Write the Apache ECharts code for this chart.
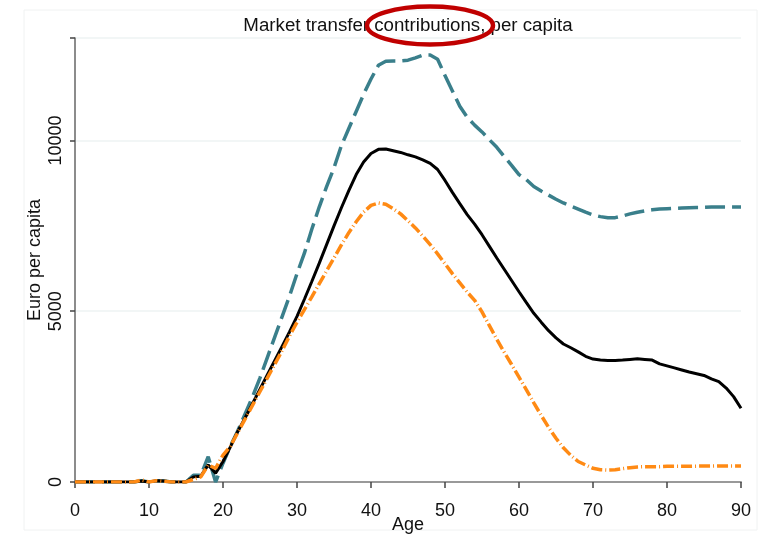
<!DOCTYPE html>
<html>
<head>
<meta charset="utf-8">
<script src="https://cdn.jsdelivr.net/npm/echarts@6/dist/echarts.min.js"></script>
<style>
  html, body { margin: 0; padding: 0; background: #fff; }
  #chart { width: 770px; height: 539px; }
</style>
</head>
<body>
<div id="chart"></div>
<script>
// age 0..90
var ages = [];
for (var a = 0; a <= 90; a++) ages.push(a);

// upper bound (teal, long dash)
var upper = [0, 0, 0, 0, 0, 0, 0, 0, 0, 40,
    0, 40, 30, 0, 0, 0, 200, 200, 740, 0,
    550, 1050, 1500, 2000, 2500, 3050, 3650, 4250, 4850, 5450,
    6100, 6700, 7400, 8050, 8650, 9200, 9850, 10350, 10850, 11350,
    11800, 12200, 12320, 12330, 12330, 12350, 12420, 12500, 12500, 12380,
    11900, 11450, 11000, 10680, 10450, 10250, 10020, 9800, 9530, 9270,
    9000, 8850, 8650, 8520, 8400, 8280, 8170, 8080, 7990, 7900,
    7820, 7770, 7740, 7740, 7790, 7850, 7900, 7940, 7970, 7990,
    8000, 8010, 8020, 8030, 8040, 8040, 8050, 8050, 8050, 8050, 8050];

// mean (black, solid)
var total = [0, 0, 0, 0, 0, 0, 0, 0, 0, 30,
    0, 40, 30, 0, 0, 0, 150, 170, 500, 260,
    600, 1030, 1480, 1880, 2300, 2720, 3140, 3560, 3980, 4400,
    4850, 5350, 5870, 6400, 6950, 7500, 8030, 8530, 9000, 9370,
    9620, 9740, 9750, 9700, 9650, 9580, 9520, 9430, 9330, 9150,
    8830, 8480, 8150, 7830, 7550, 7240, 6900, 6560, 6230, 5900,
    5570, 5250, 4940, 4680, 4430, 4220, 4040, 3930, 3810, 3680,
    3600, 3570, 3560, 3560, 3570, 3590, 3610, 3590, 3570, 3460,
    3400, 3340, 3280, 3220, 3170, 3120, 3020, 2940, 2750, 2500, 2160];

// lower bound (orange, dash-dot)
var lower = [0, 0, 0, 0, 0, 0, 0, 0, 0, 60,
    0, 40, 20, 0, 0, 0, 80, 150, 500, 400,
    790, 1050, 1450, 1850, 2250, 2650, 3050, 3450, 3850, 4280,
    4680, 5050, 5420, 5800, 6180, 6560, 6940, 7300, 7620, 7900,
    8100, 8170, 8130, 8000, 7850, 7650, 7440, 7200, 6950, 6680,
    6390, 6100, 5830, 5560, 5320, 4980, 4580, 4180, 3800, 3440,
    3070, 2700, 2320, 1950, 1600, 1280, 1000, 780, 600, 500,
    400, 360, 350, 360, 390, 420, 440, 450, 450, 450,
    460, 460, 460, 460, 465, 465, 465, 470, 470, 470, 470];

var titleText = 'Market transfer contributions, per capita';
var yTicks = [0, 5000, 10000];

function pairs(vals) {
    var out = [];
    for (var i = 0; i < ages.length; i++) out.push([ages[i], vals[i]]);
    return out;
}

var chart = echarts.init(document.getElementById('chart'));

var font = 'Liberation Sans, Arial, sans-serif';

option = {
    backgroundColor: '#fff',
    animation: false,
    grid: { left: 75, right: 29, top: 38, bottom: 57, outerBoundsMode: 'none', containLabel: false },
    xAxis: {
        type: 'value',
        min: 0, max: 90, interval: 10,
        name: 'Age',
        nameLocation: 'middle',
        nameGap: 34,
        nameMoveOverlap: false,
        nameTextStyle: { fontFamily: font, fontSize: 18, color: '#111' },
        axisLine: { show: true, onZero: false, lineStyle: { color: '#999', width: 2 } },
        axisTick: { show: true, length: 6, lineStyle: { color: '#444', width: 1.5 } },
        axisLabel: { margin: 20, fontFamily: font, fontSize: 18, color: '#111' },
        splitLine: { show: false }
    },
    yAxis: {
        type: 'value',
        min: 0, max: 13000, interval: 5000,
        name: 'Euro per capita',
        nameLocation: 'middle',
        nameGap: 31,
        nameMoveOverlap: false,
        nameTextStyle: { fontFamily: font, fontSize: 18, color: '#111' },
        axisLine: { show: true, lineStyle: { color: '#666', width: 1.5 } },
        axisTick: { show: true, length: 5, lineStyle: { color: '#444', width: 1.5 } },
        axisLabel: {
            rotate: 90, margin: 10, fontFamily: font, fontSize: 18, color: '#111',
            formatter: function (v) { return yTicks.indexOf(v) >= 0 ? String(v) : ''; }
        },
        splitLine: { show: true, lineStyle: { color: '#eef3f3', width: 1.5 } }
    },
    series: [
        {
            name: 'upper', type: 'line', data: pairs(upper),
            showSymbol: false, smooth: false, z: 2,
            lineStyle: { color: '#3a7f8b', width: 3.5, type: [20, 7] }
        },
        {
            name: 'total', type: 'line', data: pairs(total),
            showSymbol: false, smooth: false, z: 3,
            lineStyle: { color: '#000', width: 3 }
        },
        {
            name: 'lower', type: 'line', data: pairs(lower),
            showSymbol: false, smooth: false, z: 4,
            lineStyle: { color: '#ff8a14', width: 3.5, type: [11, 3, 1, 3] }
        }
    ],
    graphic: [
        {
            type: 'rect', silent: true, z: -1,
            shape: { x: 24, y: 10, width: 733, height: 520 },
            style: { fill: 'none', stroke: '#f0f2f2', lineWidth: 1 }
        },
        {
            type: 'text', silent: true, z: 50,
            x: 408, y: 26,
            style: {
                text: titleText, font: '18.7px ' + font, fill: '#111',
                textAlign: 'center', textVerticalAlign: 'middle'
            }
        },
        {
            type: 'ellipse', silent: true, z: 100,
            shape: { cx: 430, cy: 25.5, rx: 63, ry: 19 },
            style: { fill: 'none', stroke: '#c00000', lineWidth: 4.5 }
        }
    ]
};

chart.setOption(option);
</script>
</body>
</html>
